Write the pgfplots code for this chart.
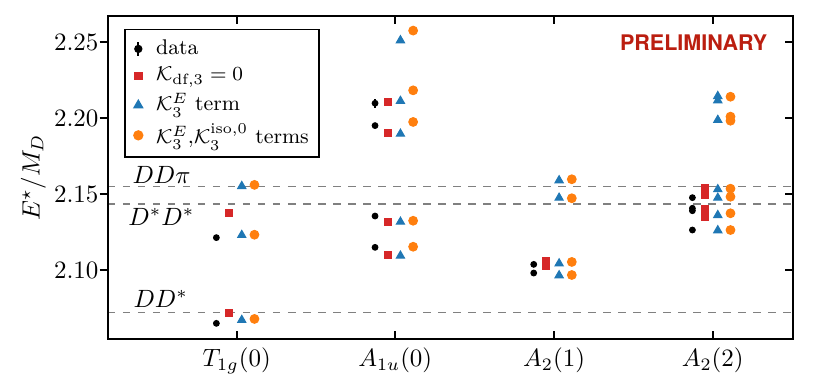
\documentclass[border=0pt]{standalone}
\usepackage{pgfplots}
\pgfplotsset{compat=1.18}
\usepackage{fontspec}
\newfontfamily\heros{TeX Gyre Heros}
\definecolor{tabred}{HTML}{D62728}
\definecolor{tabblue}{HTML}{1F77B4}
\definecolor{taborange}{HTML}{FF7F0E}
\definecolor{prelim}{HTML}{BB1E10}
\begin{document}
\begin{tikzpicture}
\pgfplotsset{
  frame/.style={scale only axis, width=274pt, height=129.2pt,
    xmin=-0.811, xmax=3.506, ymin=2.0546, ymax=2.2671,
    at={(0,0)}, anchor=south west,
    axis line style={line width=0.7pt},
    tick style={line width=0.7pt, black},
    major tick length=3.3pt},
  % legend image: a single mark, no line
  legmark/.style={legend image code/.code={
    \path[draw=none] (0,0) -- (0.3cm,0);
    \path[draw=none, ##1] plot[only marks] coordinates {(0.12cm,0cm)};}},
}
\begin{axis}[
  frame, name=ax,
  xtick={0,1,2,3},
  xticklabels={$T_{1g}(0)$,$A_{1u}(0)$,$A_2(1)$,$A_2(2)$},
  ytick={2.10,2.15,2.20,2.25}, yticklabels={},
  tick align=inside, xtick pos=both, ytick pos=right,
  legend cell align=left,
  legend style={at={(0.0234,0.96)}, anchor=north west, draw=black,
    line width=0.6pt, font=\fontsize{8.5}{10}\selectfont,
    row sep=-0.4pt, inner xsep=2pt, inner ysep=2pt},
]
% thresholds
\addplot[gray, dashed, line width=0.6pt, forget plot] coordinates {(-0.811,2.1548) (3.506,2.1548)};
\addplot[gray, dashed, line width=0.6pt, forget plot] coordinates {(-0.811,2.1434) (3.506,2.1434)};
\addplot[gray, dashed, line width=0.6pt, forget plot] coordinates {(-0.811,2.0722) (3.506,2.0722)};
\node[anchor=west, inner sep=0pt] at (axis cs:-0.659,2.1625) {$DD\pi$};
\node[anchor=west, inner sep=0pt] at (axis cs:-0.685,2.1349) {$D^*D^*$};
\node[anchor=west, inner sep=0pt] at (axis cs:-0.653,2.0809) {$DD^*$};

% data
\addplot[only marks, mark=*, mark size=1.15pt, black,
  legend image code/.code={
    \path[draw=none] (0,0) -- (0.3cm,0);
    \draw[black, line width=0.8pt] (0.12cm,-2.7pt) -- (0.12cm,2.7pt);
    \fill[black] (0.12cm,0pt) circle (1.35pt);},
  error bars/.cd, y dir=both, y explicit, error mark=none,
  error bar style={line width=0.8pt, black}]
  coordinates {
  (-0.128,2.1213) +- (0,0)
  (-0.128,2.0649) +- (0,0)
  (0.872,2.2097) +- (0,0.003)
  (0.872,2.1950) +- (0,0)
  (0.872,2.1355) +- (0,0)
  (0.872,2.1149) +- (0,0)
  (1.872,2.1037) +- (0,0)
  (1.872,2.0980) +- (0,0)
  (2.872,2.1476) +- (0,0.001)
  (2.872,2.1406) +- (0,0.0015)
  (2.872,2.1390) +- (0,0.0015)
  (2.872,2.1263) +- (0,0.002)
};

% K_df,3 = 0
\addplot[only marks, legmark, mark=square*, mark size=1.4pt, tabred, mark options={draw=tabred, fill=tabred}]
  coordinates {
  (-0.048,2.1373) (-0.048,2.0717)
  (0.952,2.2108) (0.952,2.1901) (0.952,2.1314) (0.952,2.1101)
  (1.952,2.1061) (1.952,2.1026)
  (2.952,2.1537) (2.952,2.1494) (2.952,2.1399) (2.952,2.1350)
};

% K3^E term
\addplot[only marks, legmark, mark=triangle*, mark size=1.9pt, tabblue, mark options={draw=tabblue, fill=tabblue, yshift=-0.45pt}]
  coordinates {
  (0.032,2.1559) (0.032,2.1237) (0.032,2.0678)
  (1.032,2.2518) (1.032,2.2119) (1.032,2.1903) (1.032,2.1324) (1.032,2.1101)
  (2.032,2.1597) (2.032,2.1482) (2.032,2.1050) (2.032,2.0972)
  (3.032,2.2151) (3.032,2.2123) (3.032,2.1994) (3.032,2.1538) (3.032,2.1482) (3.032,2.1368) (3.032,2.1268)
};

% K3^E, K3^iso,0 terms
\addplot[only marks, legmark, mark=*, mark size=1.75pt, taborange, mark options={draw=taborange, fill=taborange}]
  coordinates {
  (0.112,2.1560) (0.112,2.1232) (0.112,2.0678)
  (1.112,2.2575) (1.112,2.2182) (1.112,2.1974) (1.112,2.1324) (1.112,2.1153)
  (2.112,2.1597) (2.112,2.1472) (2.112,2.1053) (2.112,2.0967)
  (3.112,2.2140) (3.112,2.2009) (3.112,2.1982) (3.112,2.1535) (3.112,2.1482) (3.112,2.1373) (3.112,2.1263)
};

\legend{data, $\mathcal{K}_{\mathrm{df},3}=0$, $\mathcal{K}_3^E$ term, {$\mathcal{K}_3^E$,$\mathcal{K}_3^{\mathrm{iso},0}$ terms\hspace{7pt}}}

\node[text=prelim, font=\heros\bfseries\fontsize{8.6}{10}\selectfont] at (rel axis cs:0.855,0.916) {PRELIMINARY};
\end{axis}

% left axis: outward ticks and labels
\begin{axis}[
  frame,
  hide x axis, axis y line*=left,
  ytick={2.10,2.15,2.20,2.25},
  tick align=outside,
  yticklabel style={inner xsep=0.3pt, /pgf/number format/.cd, fixed, fixed zerofill, precision=2},
  ylabel={$E^\star/M_D$},
  every axis y label/.style={at={(rel axis cs:0,0.5)}, xshift=-29.8pt, rotate=90, anchor=center},
]
\addplot[draw=none] coordinates {(0,2.1)};
\end{axis}

\path ([shift={(-43.2pt,-17.6pt)}]ax.south west) rectangle ([shift={(9.6pt,6.4pt)}]ax.north east);
\end{tikzpicture}
\end{document}
